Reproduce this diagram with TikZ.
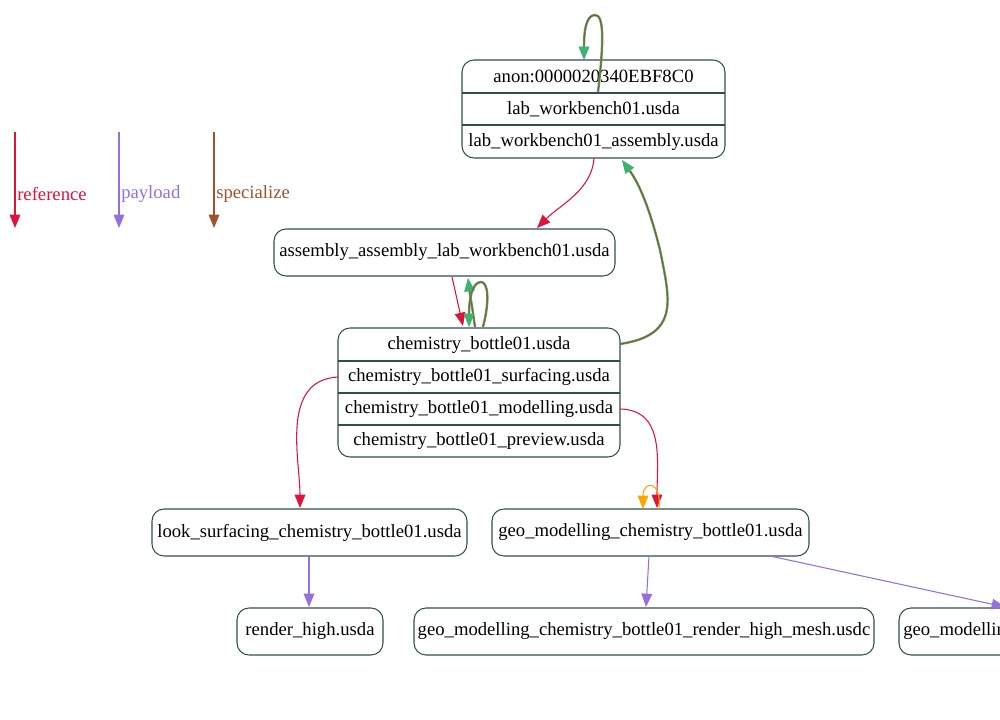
\documentclass[tikz,border=0pt]{standalone}
\usepackage{fontspec}
\setmainfont{Liberation Serif}
\usetikzlibrary{arrows.meta}
\definecolor{bd}{HTML}{2F4F4F}
\definecolor{rf}{HTML}{DC143C}
\definecolor{pl}{HTML}{9370DB}
\definecolor{sp}{HTML}{A0522D}
\definecolor{gr}{HTML}{3CB371}
\definecolor{og}{HTML}{FFA500}
\begin{document}
\begin{tikzpicture}[x=0.75pt,y=-0.75pt,
  box/.style={draw=bd,rounded corners=9pt,line width=0.8pt},
  lbl/.style={font=\fontsize{14}{16}\selectfont,inner sep=0},
  tip/.style={-{Triangle[length=10pt,width=8pt]}},
  rfe/.style={tip,draw=rf,line width=0.8pt},
  ple/.style={tip,draw=pl,line width=0.8pt},
  dbl/.style={draw=gr,double=sp,double distance=0.8pt,line width=0.5pt,
     -{Triangle[length=10pt,width=8pt,fill=gr,color=gr]}}]
\useasboundingbox (0,0) rectangle (1000,720);
\begin{scope}
\clip (0,0) rectangle (1000,720);
% top record
\draw[box] (462,60) rectangle (725,158);
\draw[bd,line width=0.8pt] (462,93)--(725,93) (462,125)--(725,125);
\node[lbl] (anon) at (593.5,76) {anon:0000020340EBF8C0};
\node[lbl] (lab) at (593.5,109) {lab\_workbench01.usda};
\node[lbl] (labasm) at (593.5,142) {lab\_workbench01\_assembly.usda};
\coordinate (topB) at (594,158);
% assembly
\draw[box] (274,229) rectangle (615,276);
\node[lbl] (asm) at (444.5,252.5) {assembly\_assembly\_lab\_workbench01.usda};
% chemistry record
\draw[box] (338,328) rectangle (620,457);
\draw[bd,line width=0.8pt] (338,361)--(620,361) (338,393)--(620,393) (338,425)--(620,425);
\node[lbl] (cb) at (479,345) {chemistry\_bottle01.usda};
\node[lbl] (cbs) at (479,377) {chemistry\_bottle01\_surfacing.usda};
\node[lbl] (cbm) at (479,409) {chemistry\_bottle01\_modelling.usda};
\node[lbl] (cbp) at (479,441) {chemistry\_bottle01\_preview.usda};
% lower
\draw[box] (152,509) rectangle (467,556);
\node[lbl] (look) at (309.5,532.5) {look\_surfacing\_chemistry\_bottle01.usda};
\draw[box] (492,509) rectangle (809,556);
\node[lbl] (geo) at (650.5,532.5) {geo\_modelling\_chemistry\_bottle01.usda};
\draw[box] (237,608) rectangle (383,655);
\node[lbl] (rh) at (310,631.5) {render\_high.usda};
\draw[box] (414,608) rectangle (874,655);
\node[lbl] (grh) at (644,631.5) {geo\_modelling\_chemistry\_bottle01\_render\_high\_mesh.usdc};
\draw[box] (899,608) rectangle (1150,655);
\node[lbl,anchor=west] (gm) at (903,631.5) {geo\_modelling\_chemistry\_bottle01.usda};
% legend
\coordinate (l1a) at (15,132); \coordinate (l1b) at (15,228);
\coordinate (l2a) at (119,132); \coordinate (l2b) at (119,228);
\coordinate (l3a) at (214,132); \coordinate (l3b) at (214,228);
\draw[rfe] (l1a)--(l1b);
\draw[ple] (l2a)--(l2b);
\draw[tip,draw=sp,line width=0.8pt] (l3a)--(l3b);
\node[lbl,text=rf,anchor=west] (t1) at (17,194) {reference};
\node[lbl,text=pl,anchor=west] (t2) at (121,194) {payload};
\node[lbl,text=sp,anchor=west] (t3) at (216,194) {specialize};
% edges
\draw[dbl] (598,92) .. controls (604,40) and (604,15) .. (595,15) .. controls (585,15) and (584,35) .. (584,60);
\draw[rfe] (topB) .. controls (592,190) and (560,205) .. (537,228);
\draw[dbl] (620,344) .. controls (680,335) and (670,300) .. (660,250) .. controls (650,210) and (640,185) .. (622,160);
\draw[rfe] (452,277) -- (463,326);
\draw[dbl] (475,327) .. controls (472,305) and (470,295) .. (468,278);
\draw[dbl] (483,327) .. controls (490,300) and (488,282) .. (481,282) .. controls (472,282) and (469,300) .. (469,327);
\draw[rfe] (338,377) .. controls (280,380) and (300,460) .. (300,508);
\draw[rfe] (620,409) .. controls (665,410) and (657,460) .. (657,508);
\draw[og,line width=0.8pt,-{Triangle[length=10pt,width=8pt]}] (659,509) .. controls (662,480) and (643,480) .. (643,509);
\draw[ple] (309,556) -- (309,607);
\draw[ple] (649,556) -- (646,607);
\draw[ple] (770,556) -- (1005,607);
\end{scope}
\end{tikzpicture}
\end{document}
